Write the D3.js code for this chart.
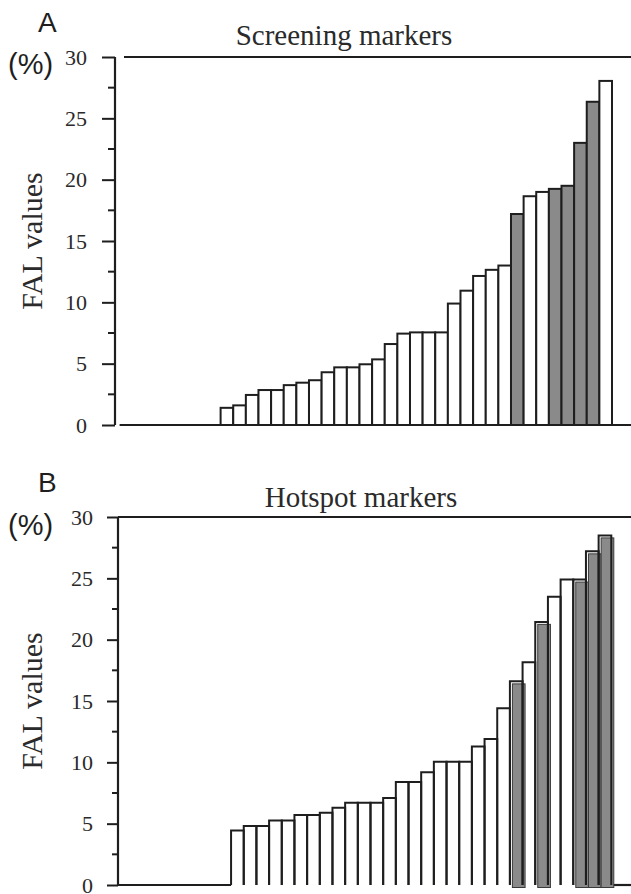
<!DOCTYPE html>
<html>
<head>
<meta charset="utf-8">
<script src="https://cdn.jsdelivr.net/npm/d3@7"></script>
<style>
  html, body { margin: 0; padding: 0; background: #fff; }
  svg { display: block; }
  .serif { font-family: "Liberation Serif", "Times New Roman", serif !important; }
  .sans { font-family: "Liberation Sans", Arial, sans-serif !important; }
</style>
</head>
<body>
<script>
// ---------------- data ----------------
const markerIndex = d3.range(39); // 39 markers per panel (ordered by FAL value)

const screeningValues = [0,0,0,0,0,0,0,0,
  1.4,1.6,2.45,2.85,2.85,3.25,3.45,3.65,4.3,4.7,4.7,4.95,5.35,6.6,7.45,7.55,7.55,7.55,
  9.9,10.95,12.15,12.65,13.0,17.2,18.65,19.0,19.25,19.5,23.0,26.35,28.05];
const screeningShaded = [0,0,0,0,0,0,0,0,
  0,0,0,0,0,0,0,0,0,0,0,0,0,0,0,0,0,0,
  0,0,0,0,0,1,0,0,1,1,1,1,0];

const hotspotValues = [0,0,0,0,0,0,0,0,0,
  4.45,4.8,4.8,5.25,5.25,5.7,5.7,5.9,6.3,6.7,6.7,6.7,7.1,8.4,8.4,9.2,10.05,10.05,10.05,
  11.3,11.9,14.4,16.6,18.15,21.45,23.5,24.9,24.9,27.2,28.5];
const hotspotShaded = [0,0,0,0,0,0,0,0,0,
  0,0,0,0,0,0,0,0,0,0,0,0,0,0,0,0,0,0,0,
  0,0,0,1,0,1,0,0,1,1,1];

const yTicksMajor = [0,5,10,15,20,25,30];
const yTicksMinor = [2.5,7.5,12.5,17.5,22.5,27.5];
const panelLetters = ["A","B"];
const panelTitles = ["Screening markers","Hotspot markers"];
const unitLabel = "(%)";
const yAxisLabel = "FAL values";

// ---------------- drawing ----------------
const W = 631, H = 894;
const ink = "#1e1e1e";
const textInk = "#2a2a2a";
const grayFill = "#8a8a8a";

const svg = d3.select("body").append("svg").attr("width", W).attr("height", H);

function panel(cfg) {
  const g = svg.append("g");
  const y = d3.scaleLinear().domain([0,30]).range(cfg.yRange);
  const x = d3.scaleBand().domain(markerIndex).range(cfg.xRange).padding(0);

  g.append("text").text(cfg.letter).attr("class","sans").attr("x", 38).attr("y", cfg.letterY)
    .style("font-size","28px").attr("fill", ink);
  g.append("text").text(cfg.title).attr("class","serif").attr("x", cfg.titleX).attr("y", cfg.titleY)
    .attr("text-anchor","middle").style("font-size","29px").attr("fill", textInk);
  g.append("text").text(unitLabel).attr("class","sans").attr("x", 8).attr("y", cfg.unitY)
    .style("font-size","29px").attr("fill", ink);
  g.append("text").text(yAxisLabel).attr("class","serif")
    .attr("transform", `translate(42,${(y(0)+y(30))/2}) rotate(-90)`)
    .attr("text-anchor","middle").style("font-size","30px").attr("fill", textInk);

  const axis = d3.axisLeft(y).tickValues(yTicksMajor).tickSize(cfg.tickLen).tickPadding(cfg.tickPad)
    .tickFormat(d3.format("d"));
  const ag = g.append("g").attr("transform",`translate(${cfg.axisX},0)`).call(axis);
  ag.attr("font-family", null).attr("font-size", null);
  ag.select(".domain").attr("stroke", ink).attr("stroke-width", 2.2).attr("d", `M0,${y(30)}V${y(0)}`);
  ag.selectAll(".tick line").attr("stroke", ink).attr("stroke-width", 2);
  ag.selectAll(".tick text").attr("class","serif").style("font-size","22px").attr("fill", textInk);
  g.append("g").selectAll("line").data(yTicksMinor).join("line")
    .attr("x1", cfg.axisX - cfg.minorLen).attr("x2", cfg.axisX).attr("y1", d => y(d)).attr("y2", d => y(d))
    .attr("stroke", ink).attr("stroke-width", 2);

  g.append("line").attr("x1", cfg.topStart).attr("x2", W).attr("y1", y(30)).attr("y2", y(30))
    .attr("stroke", ink).attr("stroke-width", 2.2);
  return {g, x, y};
}

// ---------- Panel A ----------
{
  const {g, x, y} = panel({yRange:[425,57], xRange:[119.6,612], letter:panelLetters[0], letterY:32,
    title:panelTitles[0], titleX:344, titleY:45, unitY:74, axisX:115, tickLen:13, tickPad:15,
    minorLen:7, topStart:124});

  g.append("line").attr("x1", x(0)).attr("x2", W).attr("y1", y(0)).attr("y2", y(0))
    .attr("stroke", ink).attr("stroke-width", 2.2);

  const data = markerIndex.map(i => ({i, v: screeningValues[i], s: screeningShaded[i]})).filter(d => d.v > 0);
  g.append("g").selectAll("rect").data(data).join("rect")
    .attr("x", d => x(d.i)).attr("width", x.bandwidth())
    .attr("y", d => y(d.v)).attr("height", d => y(0) - y(d.v))
    .attr("fill", d => d.s ? grayFill : "#fff")
    .attr("stroke", ink).attr("stroke-width", 2);
}

// ---------- Panel B ----------
{
  const {g, x, y} = panel({yRange:[885,517], xRange:[117,611.3], letter:panelLetters[1], letterY:492,
    title:panelTitles[1], titleX:361, titleY:507, unitY:535, axisX:118, tickLen:11, tickPad:14,
    minorLen:6, topStart:118});

  const data = markerIndex.map(i => ({i, v: hotspotValues[i], s: hotspotShaded[i]})).filter(d => d.v > 0);
  const first = data[0], last = data[data.length-1];
  g.append("line").attr("x1", 118).attr("x2", x(first.i)).attr("y1", y(0)).attr("y2", y(0))
    .attr("stroke", ink).attr("stroke-width", 2.2);
  g.append("line").attr("x1", x(last.i) + x.bandwidth()).attr("x2", W).attr("y1", y(0)).attr("y2", y(0))
    .attr("stroke", ink).attr("stroke-width", 2.2);

  const off = 2.5;
  g.append("g").selectAll("rect").data(data.filter(d => d.s)).join("rect")
    .attr("x", d => x(d.i) + off).attr("width", x.bandwidth())
    .attr("y", d => y(d.v) + off).attr("height", d => y(0) - y(d.v))
    .attr("fill", grayFill).attr("stroke", "#3a3a3a").attr("stroke-width", 1);

  g.append("g").selectAll("path").data(data).join("path")
    .attr("d", d => `M${x(d.i)},${y(0)}V${y(d.v)}H${x(d.i)+x.bandwidth()}V${y(0)}`)
    .attr("fill", "none").attr("stroke", ink).attr("stroke-width", 2);
}
</script>
</body>
</html>
